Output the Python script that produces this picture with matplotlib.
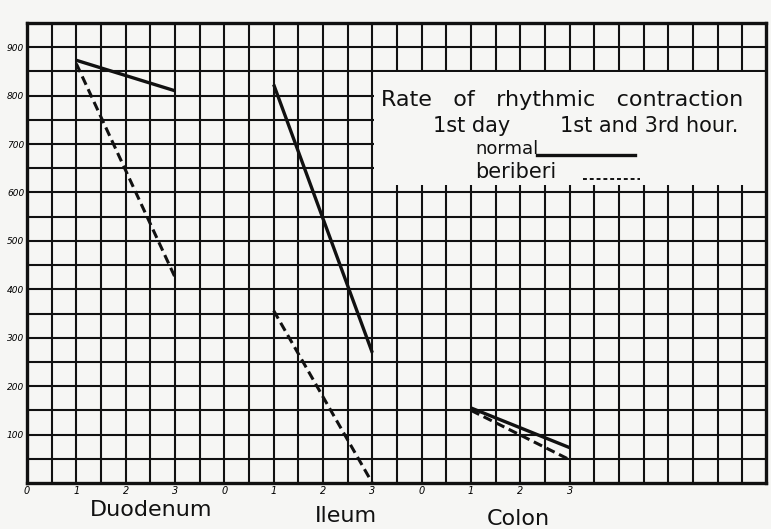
import numpy as np
import matplotlib
matplotlib.use("Agg")
import matplotlib.pyplot as plt
from matplotlib.patches import Rectangle
from matplotlib.transforms import blended_transform_factory

# ---- data ----
categories = ["Duodenum", "Ileum", "Colon"]
group_offsets = [0, 4, 8]
hours = [1, 3]
normal = [[873, 810], [823, 269], [155, 73]]
beriberi = [[866, 425], [356, 0], [150, 48]]
hour_tick_labels = ["0", "1", "2", "3"]
y_tick_values = [100, 200, 300, 400, 500, 600, 700, 800, 900]
title_line1 = "Rate   of   rhythmic   contraction"
title_line2a = "1st day"
title_line2b = "1st and 3rd hour."
legend_labels = ["normal", "beriberi"]

paper = "#f6f6f4"
ink = "#111111"

W, H = 771, 529
fig = plt.figure(figsize=(W / 100, H / 100), dpi=100, facecolor=paper)
ax_left, ax_right, ax_bottom, ax_top = 27, 766, 483, 23
ax = fig.add_axes([ax_left / W, (H - ax_bottom) / H,
                   (ax_right - ax_left) / W, (ax_bottom - ax_top) / H])
ax.set_facecolor(paper)
xmax = 14.98
ax.set_xlim(0, xmax)
ax.set_ylim(0, 950)

# grid paper
for xv in np.arange(0.5, xmax, 0.5):
    ax.axvline(xv, color=ink, lw=1.5, zorder=1)
for yv in np.arange(50, 950, 50):
    ax.axhline(yv, color=ink, lw=1.5, zorder=1)
for s in ax.spines.values():
    s.set_linewidth(2.4)
    s.set_color(ink)
    s.set_zorder(3)

# blank legend area on the paper
ax.add_patch(Rectangle((7.03, 615), xmax - 7.03, 233, facecolor=paper,
                       edgecolor="none", zorder=2))

# data lines
for off, n, b in zip(group_offsets, normal, beriberi):
    xs = [off + h for h in hours]
    ax.plot(xs, n, color=ink, lw=2.4, solid_capstyle="butt", zorder=4)
    ax.plot(xs, b, color=ink, lw=2.2, linestyle=(0, (3, 1.6)), zorder=4)

# ticks
xt = [off + i for off in group_offsets for i in range(4)]
ax.set_xticks(xt)
ax.set_xticklabels(hour_tick_labels * 3, fontsize=7, style="italic")
ax.set_yticks(y_tick_values)
ax.set_yticklabels([str(v) for v in y_tick_values], fontsize=6.5, style="italic")
ax.tick_params(axis="y", length=0, pad=2)
ax.tick_params(axis="x", length=0, pad=2)

# category labels below axis
trans = blended_transform_factory(ax.transData, fig.transFigure)
cat_pos = [(2.51, 510), (6.46, 516), (9.96, 519)]
for name, (xc, py) in zip(categories, cat_pos):
    ax.text(xc, 1 - py / H, name, transform=trans, ha="center", va="center",
            fontsize=16, color=ink)

# legend / title text
ax.text(7.17, 791, title_line1, fontsize=16, va="center", ha="left",
        color=ink, zorder=5)
ax.text(8.22, 738, title_line2a, fontsize=15, va="center", ha="left",
        color=ink, zorder=5)
ax.text(10.81, 738, title_line2b, fontsize=15, va="center", ha="left",
        color=ink, zorder=5)
ax.text(9.09, 690, legend_labels[0], fontsize=13, va="center", ha="left",
        color=ink, zorder=5)
ax.plot([10.34, 12.33], [678, 678], color=ink, lw=2.4, zorder=5)
ax.text(9.09, 643, legend_labels[1], fontsize=15, va="center", ha="left",
        color=ink, zorder=5)
ax.plot([11.28, 12.43], [628, 628], color=ink, lw=1.4,
        linestyle=(0, (2, 1.5)), zorder=5)

fig.savefig("out.png", dpi=100, facecolor=paper)
